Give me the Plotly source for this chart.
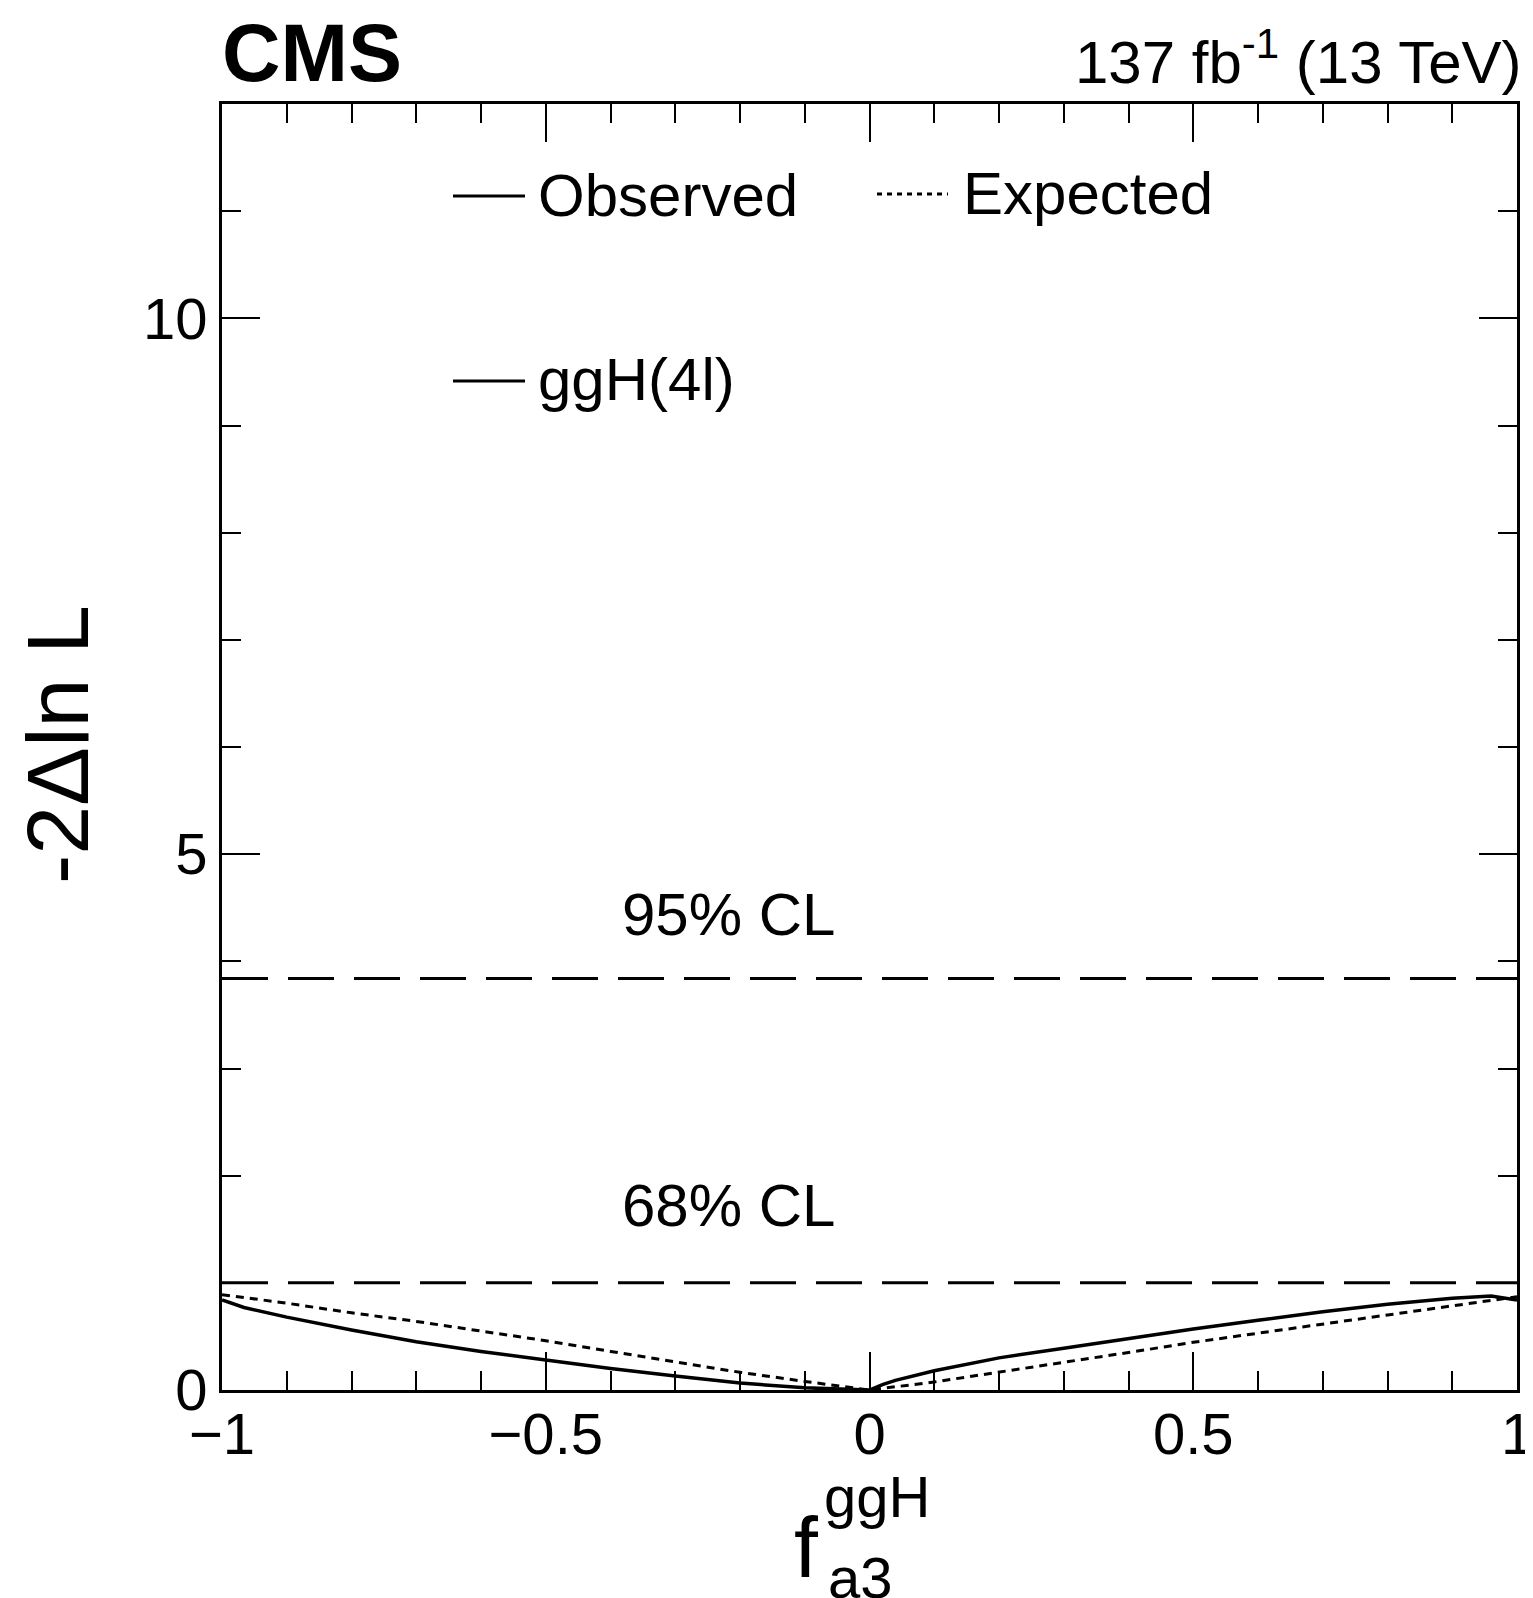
import plotly.graph_objects as go

# ---- data ----
obs_x = [-1.0, -0.966, -0.9, -0.8, -0.7, -0.6, -0.5, -0.4, -0.3, -0.2, -0.1, -0.05, -0.02,
         0.0, 0.02, 0.04, 0.1, 0.2, 0.3, 0.4, 0.5, 0.6, 0.7, 0.8, 0.9, 0.96, 1.0]
obs_y = [0.84, 0.77, 0.68, 0.56, 0.45, 0.36, 0.28, 0.20, 0.13, 0.065, 0.02, 0.006, 0.0,
         0.0, 0.05, 0.09, 0.18, 0.30, 0.39, 0.48, 0.57, 0.65, 0.73, 0.80, 0.855, 0.877, 0.84]
exp_x = [-1.0, -0.9, -0.8, -0.7, -0.6, -0.5, -0.4, -0.3, -0.2, -0.1, 0.0,
         0.1, 0.2, 0.3, 0.4, 0.5, 0.6, 0.7, 0.8, 0.9, 1.0]
exp_y = [0.89, 0.81, 0.72, 0.64, 0.55, 0.46, 0.36, 0.26, 0.165, 0.08, 0.0,
         0.075, 0.165, 0.255, 0.35, 0.445, 0.53, 0.615, 0.705, 0.79, 0.87]
cl_levels = [1.0, 3.84]
cl_labels = ["68% CL", "95% CL"]
cl_label_y = [1.72, 4.44]
cl_label_x = -0.217
x_range = [-1, 1]
y_range = [0, 12]
y_ticks = [0, 5, 10]
x_ticks = [-1, -0.5, 0, 0.5, 1]
x_ticklabels = ["\u22121", "\u22120.5", "0", "0.5", "1"]

FONT = "Liberation Sans, Arial, Helvetica, sans-serif"
# page body margin of 8px: figure drawn at (8, 8)
OFF = 8
W, H = 1525, 1590
PL, PR, PT, PB = 222, 1517, 104, 1390   # plot area in page pixels
L, T = PL - OFF, PT - OFF
R = OFF + W - PR
B = OFF + H - PB
PW, PH = PR - PL, PB - PT

def px(xp):
    return (xp - PL) / PW

def py(yp):
    return (PB - yp) / PH

fig = go.Figure()

for lvl in cl_levels:
    fig.add_trace(go.Scatter(x=x_range, y=[lvl, lvl], mode="lines",
                             line=dict(color="black", width=3, dash="46px,20px"),
                             showlegend=False, hoverinfo="skip"))

fig.add_trace(go.Scatter(x=exp_x, y=exp_y, mode="lines",
                         line=dict(color="black", width=3, dash="8px,6px"),
                         showlegend=False, cliponaxis=False))
fig.add_trace(go.Scatter(x=obs_x, y=obs_y, mode="lines",
                         line=dict(color="black", width=3.5),
                         showlegend=False, cliponaxis=False))

annotations = []
for lab, yy in zip(cl_labels, cl_label_y):
    annotations.append(dict(x=cl_label_x, y=yy, xref="x", yref="y", text=lab,
                            showarrow=False, font=dict(size=60, color="black", family=FONT),
                            xanchor="center", yanchor="middle"))

# top labels
annotations.append(dict(x=px(220), y=py(53), xref="paper", yref="paper", text="<b>CMS</b>",
                        showarrow=False, font=dict(size=81, color="black", family=FONT),
                        xanchor="left", yanchor="middle"))
annotations.append(dict(x=px(1524), y=py(58), xref="paper", yref="paper",
                        text="137 fb<sup>-1</sup> (13 TeV)",
                        showarrow=False, font=dict(size=60, color="black", family=FONT),
                        xanchor="right", yanchor="middle"))

# legend text
leg_font = dict(size=60, color="black", family=FONT)
annotations.append(dict(x=px(536), y=py(196), xref="paper", yref="paper", text="Observed",
                        showarrow=False, font=leg_font, xanchor="left", yanchor="middle"))
annotations.append(dict(x=px(961), y=py(193), xref="paper", yref="paper", text="Expected",
                        showarrow=False, font=leg_font, xanchor="left", yanchor="middle"))
annotations.append(dict(x=px(536), y=py(379), xref="paper", yref="paper", text="ggH(4l)",
                        showarrow=False, font=leg_font, xanchor="left", yanchor="middle"))

# axis titles
annotations.append(dict(x=px(57), y=py(745), xref="paper", yref="paper", text="-2\u0394ln L",
                        showarrow=False, textangle=-90,
                        font=dict(size=88, color="black", family=FONT),
                        xanchor="center", yanchor="middle"))
annotations.append(dict(x=px(806), y=py(1547), xref="paper", yref="paper", text="f",
                        showarrow=False, font=dict(size=86, color="black", family=FONT),
                        xanchor="center", yanchor="middle"))
annotations.append(dict(x=px(822), y=py(1496), xref="paper", yref="paper", text="ggH",
                        showarrow=False, font=dict(size=58, color="black", family=FONT),
                        xanchor="left", yanchor="middle"))
annotations.append(dict(x=px(826), y=py(1578), xref="paper", yref="paper", text="a3",
                        showarrow=False, font=dict(size=58, color="black", family=FONT),
                        xanchor="left", yanchor="middle"))

shapes = [
    dict(type="line", xref="paper", yref="paper", x0=px(453), x1=px(525), y0=py(196), y1=py(196),
         line=dict(color="black", width=3)),
    dict(type="line", xref="paper", yref="paper", x0=px(877), x1=px(948), y0=py(194), y1=py(194),
         line=dict(color="black", width=3, dash="5px,5px")),
    dict(type="line", xref="paper", yref="paper", x0=px(453), x1=px(525), y0=py(381), y1=py(381),
         line=dict(color="black", width=3)),
]

fig.update_layout(
    width=W, height=H,
    margin=dict(l=L, r=R, t=T, b=B, pad=0, autoexpand=False),
    paper_bgcolor="white", plot_bgcolor="white",
    font=dict(family=FONT, color="black"),
    showlegend=False,
    annotations=annotations,
    shapes=shapes,
    xaxis=dict(range=x_range, tickvals=x_ticks, ticktext=x_ticklabels,
               ticks="inside", ticklen=38, tickwidth=1.5, tickcolor="black",
               ticklabeloverflow="allow", ticklabelstandoff=-9,
               minor=dict(dtick=0.1, ticks="inside", ticklen=19, tickwidth=1.5, tickcolor="black",
                          showgrid=False),
               showline=True, linewidth=3, linecolor="black", mirror="allticks",
               showgrid=False, zeroline=False,
               tickfont=dict(size=58, family=FONT, color="black")),
    yaxis=dict(range=y_range, tickvals=y_ticks,
               ticks="inside", ticklen=38, tickwidth=1.5, tickcolor="black",
               ticklabeloverflow="allow",
               minor=dict(dtick=1, ticks="inside", ticklen=19, tickwidth=1.5, tickcolor="black",
                          showgrid=False),
               showline=True, linewidth=3, linecolor="black", mirror="allticks",
               showgrid=False, zeroline=False,
               tickfont=dict(size=58, family=FONT, color="black")),
)

fig.write_html("out.html")
